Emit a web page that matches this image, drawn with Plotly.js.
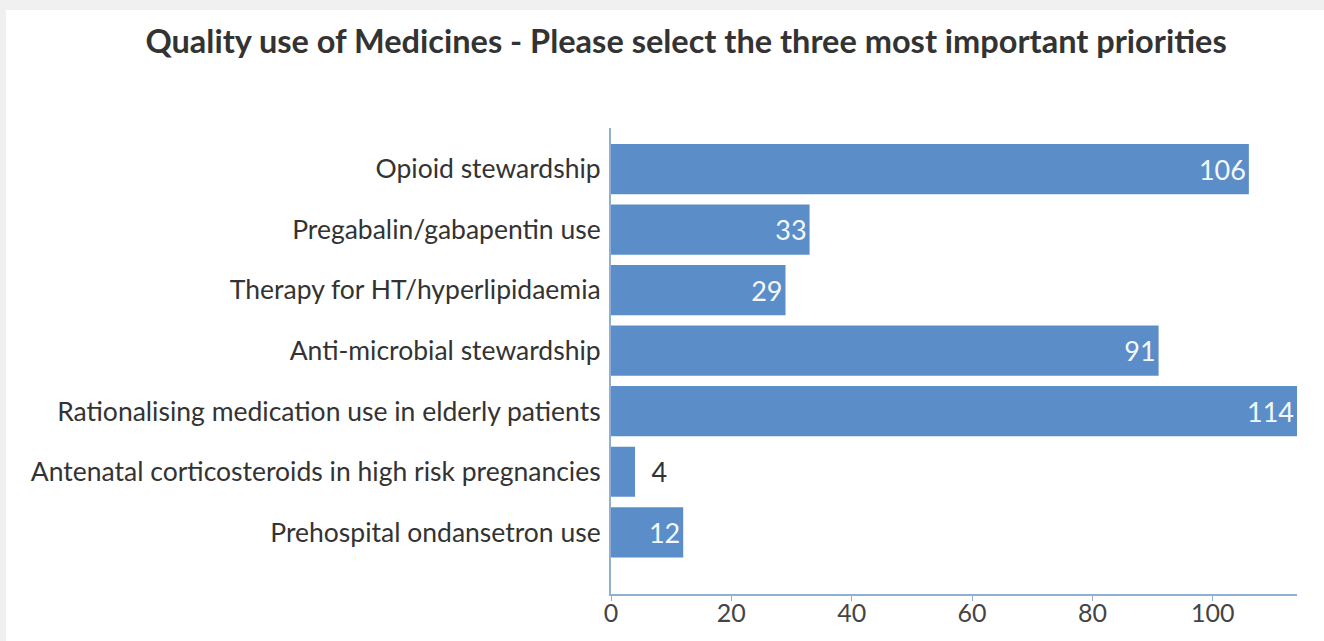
<!DOCTYPE html>
<html><head><meta charset="utf-8">
<script src="https://cdn.plot.ly/plotly-3.0.1.min.js"></script>
<style>
html,body{margin:0;padding:0;background:#f0f0f0;width:1324px;height:641px;overflow:hidden;}
#chart{position:absolute;left:6px;top:10px;width:1318px;height:631px;background:#fff;}
</style></head><body>
<div id="chart"></div>
<script>
const categories = [
  "Prehospital ondansetron use",
  "Antenatal corticosteroids in high risk pregnancies",
  "Rationalising medication use in elderly patients",
  "Anti-microbial stewardship",
  "Therapy for HT/hyperlipidaemia",
  "Pregabalin/gabapentin use",
  "Opioid stewardship"
];
const counts = [12, 4, 114, 91, 29, 33, 106];
const xTicks = [0, 20, 40, 60, 80, 100];

const FONT = "Lato, 'Open Sans', sans-serif";
const trace = {
  type: 'bar',
  orientation: 'h',
  y: categories,
  x: counts,
  text: counts.map(v => v < 8 ? '\u2002' + v : String(v)),
  textposition: counts.map(v => v < 8 ? 'outside' : 'inside'),
  insidetextanchor: 'end',
  insidetextfont: {color: '#f4f8fc', size: 27, family: FONT},
  outsidetextfont: {color: '#333333', size: 27, family: FONT},
  constraintext: 'none',
  cliponaxis: false,
  marker: {color: '#5b8ec8'},
  hoverinfo: 'x+y'
};
const layout = {
  width: 1318, height: 631,
  margin: {l: 605, r: 27, t: 118, b: 47},
  paper_bgcolor: '#ffffff',
  plot_bgcolor: '#ffffff',
  font: {family: FONT, color: '#333333', size: 26},
  title: {
    text: '<b>Quality use of Medicines - Please select the three most important priorities</b>',
    font: {family: FONT, size: 32.5, color: '#333333'},
    x: 0.516, xref: 'container', xanchor: 'center',
    y: 0.95, yref: 'container', yanchor: 'middle'
  },
  bargap: 0.17,
  showlegend: false,
  xaxis: {
    range: [0, 114], tickvals: xTicks, ticktext: xTicks.map(String),
    showgrid: false, zeroline: false,
    showline: true, linecolor: '#8fb0d3', linewidth: 2,
    ticks: 'outside', ticklen: 5, tickcolor: '#8fb0d3', tickwidth: 1,
    ticklabelstandoff: -9,
    tickfont: {size: 25, color: '#444444', family: FONT},
    fixedrange: true
  },
  yaxis: {
    range: [-1.02, 6.68], type: 'category',
    showgrid: false, zeroline: false,
    showline: true, linecolor: '#8fb0d3', linewidth: 2,
    ticks: '', ticklabelstandoff: 3,
    tickfont: {size: 26.5, color: '#333333', family: FONT},
    fixedrange: true
  }
};
Plotly.newPlot('chart', [trace], layout, {displayModeBar: false, staticPlot: true});
</script>
</body></html>
